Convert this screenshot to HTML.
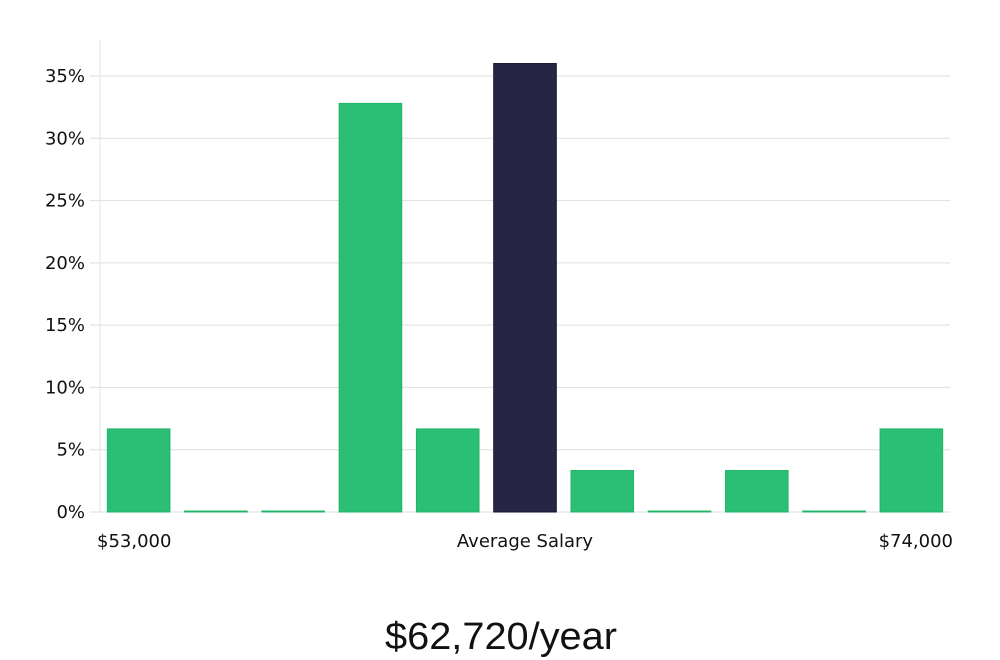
<!DOCTYPE html>
<html><head><meta charset="utf-8"><style>
body{margin:0;background:#fff;}
svg{display:block;font-family:"DejaVu Sans","Liberation Sans",sans-serif;}
</style></head><body>
<svg id="chart" width="1000" height="660" viewBox="0 0 1000 660">
<g id="grid"></g>
<line x1="100" y1="40" x2="100" y2="512" stroke="#e0e0e0" stroke-width="1"/>
<g id="yticks"></g>
<g id="bars"></g>
<text x="97" y="547" font-size="18" fill="#111">$53,000</text>
<text x="525" y="547" font-size="18" fill="#111" text-anchor="middle">Average Salary</text>
<text x="953" y="547" font-size="18" fill="#111" text-anchor="end">$74,000</text>
<text x="501" y="649" font-size="38" fill="#111" text-anchor="middle" textLength="232" lengthAdjust="spacingAndGlyphs" font-family="Liberation Sans, sans-serif" font-weight="300">$62,720/year</text>
</svg>
<script>
const categories = ["b1","b2","b3","b4","b5","b6","b7","b8","b9","b10","b11"];
const values = [6.67, 0, 0, 32.8, 6.67, 36.0, 3.33, 0, 3.33, 0, 6.67];
const highlightIndex = [5];
const yTicks = [0,5,10,15,20,25,30,35];
const yTickLabels = ["0%","5%","10%","15%","20%","25%","30%","35%"];

const NS="http://www.w3.org/2000/svg";
const x0=100,x1=950,yBase=512,yTop35=76;
function yScale(v){return yBase-(v/35)*(yBase-yTop35);}
const band=(x1-x0)/categories.length;
function xScale(i){return x0+i*band;}
const grid=document.getElementById('grid'),yt=document.getElementById('yticks'),bars=document.getElementById('bars');
yTicks.forEach((t,i)=>{
  const y=yScale(t);
  const l=document.createElementNS(NS,'line');
  
  
  l.setAttribute('x1',90);l.setAttribute('x2',950);l.setAttribute('y1',y);l.setAttribute('y2',y);
  l.setAttribute('stroke','#dedede');l.setAttribute('stroke-width','1');
  grid.appendChild(l);
  const tx=document.createElementNS(NS,'text');
  
  
  tx.setAttribute('x',85);tx.setAttribute('y',y+6);tx.setAttribute('text-anchor','end');
  tx.setAttribute('font-size','18');tx.setAttribute('fill','#111');
  tx.textContent=yTickLabels[i];
  yt.appendChild(tx);
});
const bw=band*0.81;
values.forEach((v,i)=>{
  const hi=highlightIndex.includes(i);
  const y=yScale(v);
  const h=Math.max(yBase-y,1);
  const r=document.createElementNS(NS,'rect');
  
  
  r.setAttribute('x',xScale(i)+(band-bw)/2);r.setAttribute('y',yBase-h);
  r.setAttribute('width',bw);r.setAttribute('height',h);
  r.setAttribute('fill',hi?'#272544':'#2abf75');
  r.setAttribute('stroke',hi?'#14122e':'#22b46a');r.setAttribute('stroke-width','1');
  bars.appendChild(r);
});
</script>
</body></html>
